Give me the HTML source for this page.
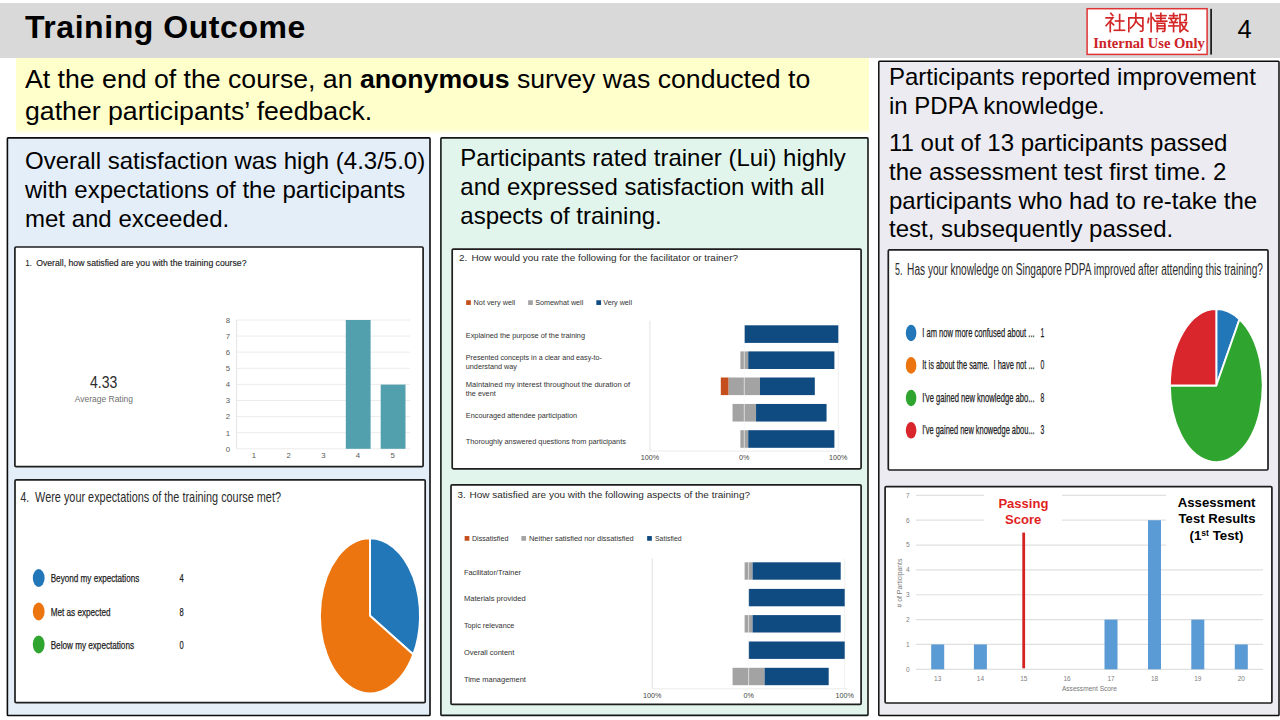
<!DOCTYPE html>
<html>
<head>
<meta charset="utf-8">
<title>Training Outcome</title>
<style>
html,body{margin:0;padding:0;}
body{width:1280px;height:720px;position:relative;overflow:hidden;background:#fff;font-family:"Liberation Sans",sans-serif;color:#000;}
.abs{position:absolute;}
.hdr{left:0;top:3px;width:1280px;height:55px;background:#d9d9d9;}
.title{left:25px;top:9px;font-size:32px;font-weight:bold;line-height:36px;white-space:nowrap;letter-spacing:0.55px;}
.pgnum{left:1237px;top:14px;font-size:24px;line-height:30px;}
.vline{left:1210.3px;top:9px;width:1.5px;height:46px;background:#111;}
.badge{left:1087px;top:8px;width:119px;height:44px;background:#fff;border:1px solid #e02020;box-shadow:inset 0 0 0 1px #fff, inset 0 0 0 2px #e8a0a0;}
.yellow{left:15.6px;top:58px;width:853.2px;height:77px;background:linear-gradient(to bottom,#ffffcb 0,#ffffcb 71px,#ffffe6 74px,#fff 77px);}
.ytext{left:25px;top:64px;font-size:26.67px;line-height:31.5px;white-space:nowrap;}
.panel{box-sizing:border-box;border:2px solid #111;}
.pblue{left:7px;top:137px;width:424px;height:580px;background:#e3eef9;}
.pgreen{left:440px;top:137px;width:429px;height:580px;background:#e2f5ec;}
.pright{left:878px;top:60px;width:401px;height:657px;background:#ebebf2;}
.ptext{font-size:24px;line-height:28.8px;white-space:nowrap;}
.cbox{box-sizing:border-box;border:2px solid #111;background:#fff;}
svg{position:absolute;left:0;top:0;overflow:visible;}
svg text{font-family:"Liberation Sans",sans-serif;}
</style>
</head>
<body>
<div class="abs hdr"></div>
<div class="abs title">Training Outcome</div>

<div class="abs yellow"></div>
<div class="abs ytext">At the end of the course, an <b>anonymous</b> survey was conducted to<br>gather participants’ feedback.</div>


<svg id="bg" width="1280" height="720" viewBox="0 0 1280 720">
<rect x="7.4" y="137.9" width="422.60" height="577.60" fill="#e4eef9" stroke="#0c0c0c" stroke-width="1.6" rx="0.8"/>
<rect x="440.9" y="137.9" width="427.10" height="577.50" fill="#e2f5ec" stroke="#151a18" stroke-width="1.6" rx="0.8"/>
<rect x="878.8" y="61.2" width="400.20" height="654.30" fill="#ebebf1" stroke="#0c0c0c" stroke-width="1.5" rx="0.8"/>
<rect x="14.9" y="247" width="408.20" height="219.70" fill="#fff" stroke="#1e1e1e" stroke-width="1.7" rx="1.2"/>
<rect x="15" y="479.9" width="410.20" height="222.70" fill="#fff" stroke="#1e1e1e" stroke-width="1.7" rx="1.2"/>
<rect x="452.2" y="249.1" width="408.90" height="219.70" fill="#fff" stroke="#1e1e1e" stroke-width="1.7" rx="1.2"/>
<rect x="451" y="484.8" width="410.10" height="219.60" fill="#fff" stroke="#1e1e1e" stroke-width="1.7" rx="1.2"/>
<rect x="888.3" y="249.9" width="379.70" height="220.10" fill="#fff" stroke="#1e1e1e" stroke-width="1.7" rx="1.2"/>
<rect x="885.1" y="486.6" width="386.80" height="216.40" fill="#fff" stroke="#1e1e1e" stroke-width="1.7" rx="1.2"/>
</svg>
<div class="abs ptext" style="left:25px;top:147px;">Overall satisfaction was high (4.3/5.0)<br>with expectations of the participants<br>met and exceeded.</div>
<div class="abs ptext" style="left:460.3px;top:144px;">Participants rated trainer (Lui) highly<br>and expressed satisfaction with all<br>aspects of training.</div>
<div class="abs ptext" style="left:889px;top:63px;">Participants reported improvement<br>in PDPA knowledge.</div>
<div class="abs ptext" style="left:889px;top:129px;">11 out of 13 participants passed<br>the assessment test first time. 2<br>participants who had to re-take the<br>test, subsequently passed.</div>


<svg id="ov" width="1280" height="720" viewBox="0 0 1280 720">
<g id="badge">
<rect x="1087.1" y="8.7" width="120" height="45.7" fill="#fff" stroke="#de3434" stroke-width="1.5"/>
<g transform="translate(1105.00,13.0) scale(0.1950,0.1900)" fill="none" stroke="#d42626" stroke-width="8.6" stroke-linecap="square"><path d="M30,2 L40,14"/><path d="M6,26 L40,26 L6,66"/><path d="M27,46 L27,98"/><path d="M30,48 L44,62"/><path d="M54,42 L96,42"/><path d="M75,8 L75,90"/><path d="M48,91 L100,91"/></g><g transform="translate(1126.10,13.0) scale(0.1950,0.1900)" fill="none" stroke="#d42626" stroke-width="8.6" stroke-linecap="square"><path d="M14,26 L14,98"/><path d="M14,26 L86,26 L86,90 Q86,97 74,96"/><path d="M50,2 L50,38 Q46,62 22,80"/><path d="M50,40 Q60,58 78,70"/></g><g transform="translate(1147.20,13.0) scale(0.1950,0.1900)" fill="none" stroke="#d42626" stroke-width="8.6" stroke-linecap="square"><path d="M8,28 L4,50"/><path d="M20,2 L20,98"/><path d="M27,24 L36,38"/><path d="M46,14 L96,14"/><path d="M50,28 L92,28"/><path d="M40,43 L100,43"/><path d="M70,2 L70,43"/><path d="M52,54 L52,98"/><path d="M52,54 L90,54 L90,92 Q90,98 80,97"/><path d="M52,68 L90,68"/><path d="M52,82 L90,82"/></g><g transform="translate(1168.30,13.0) scale(0.1950,0.1900)" fill="none" stroke="#d42626" stroke-width="8.6" stroke-linecap="square"><path d="M8,14 L46,14"/><path d="M27,2 L27,28"/><path d="M3,28 L50,28"/><path d="M14,34 L20,46"/><path d="M40,34 L34,46"/><path d="M8,50 L46,50"/><path d="M3,68 L50,68"/><path d="M27,50 L27,98"/><path d="M60,8 L60,98"/><path d="M60,8 L92,8 L92,34 Q92,40 84,39"/><path d="M62,50 L94,50 Q88,78 62,98"/><path d="M68,58 Q78,84 100,96"/></g>
<text x="1093.20" y="48.30" font-size="14.5" fill="#cc2428" font-weight="bold" style='font-family:"Liberation Serif", serif' textLength="111.50" lengthAdjust="spacingAndGlyphs" >Internal Use Only</text>
<text x="1244.60" y="38.30" font-size="25.5" fill="#000" text-anchor="middle" >4</text>
<rect x="1210.30" y="8.80" width="1.60" height="45.80" fill="#0a0a0a" />
</g>
<g id="chart1">
<text x="25.60" y="265.60" font-size="9" fill="#222" textLength="6.10" lengthAdjust="spacingAndGlyphs" stroke="#222" stroke-width="0.15">1.</text>
<text x="36.20" y="265.60" font-size="9" fill="#222" textLength="210.30" lengthAdjust="spacingAndGlyphs" stroke="#222" stroke-width="0.15">Overall, how satisfied are you with the training course?</text>
<text x="90.00" y="387.50" font-size="16" fill="#2b2b2b" textLength="27.30" lengthAdjust="spacingAndGlyphs" >4.33</text>
<text x="74.80" y="401.90" font-size="9.3" fill="#707070" textLength="58.20" lengthAdjust="spacingAndGlyphs" >Average Rating</text>
<line x1="236.60" y1="448.80" x2="410.00" y2="448.80" stroke="#ececec" stroke-width="1" />
<text x="230.20" y="451.60" font-size="7.8" fill="#5a5a5a" text-anchor="end" >0</text>
<line x1="236.60" y1="432.70" x2="410.00" y2="432.70" stroke="#ececec" stroke-width="1" />
<text x="230.20" y="435.50" font-size="7.8" fill="#5a5a5a" text-anchor="end" >1</text>
<line x1="236.60" y1="416.60" x2="410.00" y2="416.60" stroke="#ececec" stroke-width="1" />
<text x="230.20" y="419.40" font-size="7.8" fill="#5a5a5a" text-anchor="end" >2</text>
<line x1="236.60" y1="400.50" x2="410.00" y2="400.50" stroke="#ececec" stroke-width="1" />
<text x="230.20" y="403.30" font-size="7.8" fill="#5a5a5a" text-anchor="end" >3</text>
<line x1="236.60" y1="384.40" x2="410.00" y2="384.40" stroke="#ececec" stroke-width="1" />
<text x="230.20" y="387.20" font-size="7.8" fill="#5a5a5a" text-anchor="end" >4</text>
<line x1="236.60" y1="368.30" x2="410.00" y2="368.30" stroke="#ececec" stroke-width="1" />
<text x="230.20" y="371.10" font-size="7.8" fill="#5a5a5a" text-anchor="end" >5</text>
<line x1="236.60" y1="352.20" x2="410.00" y2="352.20" stroke="#ececec" stroke-width="1" />
<text x="230.20" y="355.00" font-size="7.8" fill="#5a5a5a" text-anchor="end" >6</text>
<line x1="236.60" y1="336.10" x2="410.00" y2="336.10" stroke="#ececec" stroke-width="1" />
<text x="230.20" y="338.90" font-size="7.8" fill="#5a5a5a" text-anchor="end" >7</text>
<line x1="236.60" y1="320.00" x2="410.00" y2="320.00" stroke="#ececec" stroke-width="1" />
<text x="230.20" y="322.80" font-size="7.8" fill="#5a5a5a" text-anchor="end" >8</text>
<line x1="236.60" y1="320.00" x2="236.60" y2="448.80" stroke="#e4e4e4" stroke-width="1" />
<text x="253.94" y="457.60" font-size="7.8" fill="#5a5a5a" text-anchor="middle" >1</text>
<text x="288.62" y="457.60" font-size="7.8" fill="#5a5a5a" text-anchor="middle" >2</text>
<text x="323.30" y="457.60" font-size="7.8" fill="#5a5a5a" text-anchor="middle" >3</text>
<text x="357.98" y="457.60" font-size="7.8" fill="#5a5a5a" text-anchor="middle" >4</text>
<text x="392.66" y="457.60" font-size="7.8" fill="#5a5a5a" text-anchor="middle" >5</text>
<rect x="345.80" y="320.00" width="24.80" height="128.80" fill="#529fae" />
<rect x="380.70" y="384.60" width="24.80" height="64.20" fill="#529fae" />
</g>
<g id="chart4">
<text x="20.60" y="501.90" font-size="14.6" fill="#2b2b2b" textLength="8.60" lengthAdjust="spacingAndGlyphs" >4.</text>
<text x="35.10" y="501.90" font-size="14.6" fill="#2b2b2b" textLength="245.90" lengthAdjust="spacingAndGlyphs" >Were your expectations of the training course met?</text>
<ellipse cx="38.7" cy="578" rx="5.9" ry="9" fill="#2177b8"/>
<text x="50.70" y="582.40" font-size="11.4" fill="#1c1c1c" textLength="88.60" lengthAdjust="spacingAndGlyphs" stroke="#1c1c1c" stroke-width="0.25">Beyond my expectations</text>
<text x="179.40" y="582.40" font-size="11.4" fill="#1c1c1c" textLength="4.20" lengthAdjust="spacingAndGlyphs" stroke="#1c1c1c" stroke-width="0.25">4</text>
<ellipse cx="38.7" cy="611.5" rx="5.9" ry="9" fill="#ec7510"/>
<text x="50.70" y="615.90" font-size="11.4" fill="#1c1c1c" textLength="59.80" lengthAdjust="spacingAndGlyphs" stroke="#1c1c1c" stroke-width="0.25">Met as expected</text>
<text x="179.40" y="615.90" font-size="11.4" fill="#1c1c1c" textLength="4.20" lengthAdjust="spacingAndGlyphs" stroke="#1c1c1c" stroke-width="0.25">8</text>
<ellipse cx="38.7" cy="644.4" rx="5.9" ry="9" fill="#2fa52f"/>
<text x="50.70" y="648.80" font-size="11.4" fill="#1c1c1c" textLength="83.30" lengthAdjust="spacingAndGlyphs" stroke="#1c1c1c" stroke-width="0.25">Below my expectations</text>
<text x="179.40" y="648.80" font-size="11.4" fill="#1c1c1c" textLength="4.20" lengthAdjust="spacingAndGlyphs" stroke="#1c1c1c" stroke-width="0.25">0</text>
<path d="M370.00,615.70 L370.00,538.20 A50,77.5 0 0 1 413.30,654.45 Z" fill="#2177b8" stroke="#fff" stroke-width="1.9" stroke-linejoin="round"/>
<path d="M370.00,615.70 L413.30,654.45 A50,77.5 0 1 1 370.00,538.20 Z" fill="#ec7510" stroke="#fff" stroke-width="1.9" stroke-linejoin="round"/>
</g>
<g id="chart2">
<text x="459.00" y="261.20" font-size="9.9" fill="#2a2a2a" >2.</text>
<text x="471.40" y="261.20" font-size="9.9" fill="#2a2a2a" textLength="266.60" lengthAdjust="spacingAndGlyphs" >How would you rate the following for the facilitator or trainer?</text>
<rect x="466.15" y="300.25" width="4.70" height="4.70" fill="#c54f1c" />
<text x="473.60" y="305.30" font-size="7.5" fill="#333" textLength="41.60" lengthAdjust="spacingAndGlyphs" >Not very well</text>
<rect x="528.15" y="300.25" width="4.70" height="4.70" fill="#a3a3a3" />
<text x="535.20" y="305.30" font-size="7.5" fill="#333" textLength="48.10" lengthAdjust="spacingAndGlyphs" >Somewhat well</text>
<rect x="596.35" y="300.25" width="4.70" height="4.70" fill="#0f4a80" />
<text x="603.30" y="305.30" font-size="7.5" fill="#333" textLength="28.70" lengthAdjust="spacingAndGlyphs" >Very well</text>
<line x1="649.90" y1="320.80" x2="649.90" y2="451.10" stroke="#e2e2e2" stroke-width="1" />
<line x1="838.30" y1="320.80" x2="838.30" y2="451.10" stroke="#f0f0f0" stroke-width="1" />
<line x1="649.90" y1="451.10" x2="841.30" y2="451.10" stroke="#ececec" stroke-width="1" />
<text x="465.80" y="338.00" font-size="7.5" fill="#333" textLength="119.20" lengthAdjust="spacingAndGlyphs" >Explained the purpose of the training</text>
<rect x="744.30" y="325.30" width="94.00" height="17.60" fill="#0f4a80" />
<text x="465.80" y="360.30" font-size="7.5" fill="#333" textLength="136.20" lengthAdjust="spacingAndGlyphs" >Presented concepts in a clear and easy-to-</text>
<text x="465.80" y="368.90" font-size="7.5" fill="#333" textLength="51.20" lengthAdjust="spacingAndGlyphs" >understand way</text>
<rect x="740.38" y="351.40" width="7.83" height="17.60" fill="#a3a3a3" />
<rect x="748.22" y="351.40" width="86.17" height="17.60" fill="#0f4a80" />
<text x="465.80" y="386.90" font-size="7.5" fill="#333" textLength="164.20" lengthAdjust="spacingAndGlyphs" >Maintained my interest throughout the duration of</text>
<text x="465.80" y="395.90" font-size="7.5" fill="#333" textLength="29.90" lengthAdjust="spacingAndGlyphs" >the event</text>
<rect x="720.80" y="377.50" width="7.83" height="17.60" fill="#c54f1c" />
<rect x="728.63" y="377.50" width="31.33" height="17.60" fill="#a3a3a3" />
<rect x="759.97" y="377.50" width="54.83" height="17.60" fill="#0f4a80" />
<text x="465.80" y="417.80" font-size="7.5" fill="#333" textLength="111.30" lengthAdjust="spacingAndGlyphs" >Encouraged attendee participation</text>
<rect x="732.55" y="403.95" width="23.50" height="17.60" fill="#a3a3a3" />
<rect x="756.05" y="403.95" width="70.50" height="17.60" fill="#0f4a80" />
<text x="465.80" y="444.40" font-size="7.5" fill="#333" textLength="160.10" lengthAdjust="spacingAndGlyphs" >Thoroughly answered questions from participants</text>
<rect x="740.38" y="430.20" width="7.83" height="17.60" fill="#a3a3a3" />
<rect x="748.22" y="430.20" width="86.17" height="17.60" fill="#0f4a80" />
<line x1="744.30" y1="320.80" x2="744.30" y2="451.10" stroke="#f4f4f4" stroke-width="0.8" stroke-opacity="0.85"/>
<text x="649.90" y="459.70" font-size="7.2" fill="#444" text-anchor="middle" >100%</text>
<text x="744.30" y="459.70" font-size="7.2" fill="#444" text-anchor="middle" >0%</text>
<text x="838.30" y="459.70" font-size="7.2" fill="#444" text-anchor="middle" >100%</text>
</g>
<g id="chart3">
<text x="457.40" y="497.80" font-size="9.9" fill="#2a2a2a" >3.</text>
<text x="469.50" y="497.80" font-size="9.9" fill="#2a2a2a" textLength="280.50" lengthAdjust="spacingAndGlyphs" >How satisfied are you with the following aspects of the training?</text>
<rect x="464.65" y="536.05" width="4.70" height="4.70" fill="#c54f1c" />
<text x="471.90" y="541.10" font-size="7.5" fill="#333" textLength="36.50" lengthAdjust="spacingAndGlyphs" >Dissatisfied</text>
<rect x="521.35" y="536.05" width="4.70" height="4.70" fill="#a3a3a3" />
<text x="529.00" y="541.10" font-size="7.5" fill="#333" textLength="104.70" lengthAdjust="spacingAndGlyphs" >Neither satisfied nor dissatisfied</text>
<rect x="647.15" y="536.05" width="4.70" height="4.70" fill="#0f4a80" />
<text x="655.00" y="541.10" font-size="7.5" fill="#333" textLength="26.60" lengthAdjust="spacingAndGlyphs" >Satisfied</text>
<line x1="652.30" y1="558.40" x2="652.30" y2="688.80" stroke="#e2e2e2" stroke-width="1" />
<line x1="844.70" y1="558.40" x2="844.70" y2="688.80" stroke="#f0f0f0" stroke-width="1" />
<line x1="652.30" y1="688.80" x2="847.70" y2="688.80" stroke="#ececec" stroke-width="1" />
<text x="463.90" y="574.60" font-size="7.5" fill="#333" textLength="57.10" lengthAdjust="spacingAndGlyphs" >Facilitator/Trainer</text>
<rect x="744.60" y="562.30" width="8.01" height="17.40" fill="#a3a3a3" />
<rect x="752.60" y="562.30" width="88.09" height="17.40" fill="#0f4a80" />
<text x="463.90" y="601.40" font-size="7.5" fill="#333" textLength="61.70" lengthAdjust="spacingAndGlyphs" >Materials provided</text>
<rect x="748.60" y="588.90" width="96.10" height="17.40" fill="#0f4a80" />
<text x="463.90" y="628.10" font-size="7.5" fill="#333" textLength="50.50" lengthAdjust="spacingAndGlyphs" >Topic relevance</text>
<rect x="744.60" y="615.10" width="8.01" height="17.40" fill="#a3a3a3" />
<rect x="752.60" y="615.10" width="88.09" height="17.40" fill="#0f4a80" />
<text x="463.90" y="655.10" font-size="7.5" fill="#333" textLength="50.50" lengthAdjust="spacingAndGlyphs" >Overall content</text>
<rect x="748.60" y="641.50" width="96.10" height="17.40" fill="#0f4a80" />
<text x="463.90" y="682.10" font-size="7.5" fill="#333" textLength="62.00" lengthAdjust="spacingAndGlyphs" >Time management</text>
<rect x="732.58" y="667.80" width="32.03" height="17.40" fill="#a3a3a3" />
<rect x="764.62" y="667.80" width="64.07" height="17.40" fill="#0f4a80" />
<line x1="748.60" y1="558.40" x2="748.60" y2="688.80" stroke="#f4f4f4" stroke-width="0.8" stroke-opacity="0.85"/>
<text x="652.30" y="697.60" font-size="7.2" fill="#444" text-anchor="middle" >100%</text>
<text x="748.60" y="697.60" font-size="7.2" fill="#444" text-anchor="middle" >0%</text>
<text x="844.70" y="697.60" font-size="7.2" fill="#444" text-anchor="middle" >100%</text>
</g>
<g id="chart5">
<text x="895.00" y="274.70" font-size="15.6" fill="#2b2b2b" textLength="7.40" lengthAdjust="spacingAndGlyphs" >5.</text>
<text x="907.10" y="274.70" font-size="15.6" fill="#2b2b2b" textLength="355.90" lengthAdjust="spacingAndGlyphs" >Has your knowledge on Singapore PDPA improved after attending this training?</text>
<ellipse cx="911.1" cy="333" rx="5.3" ry="8.3" fill="#2177b8"/>
<text x="922.30" y="337.00" font-size="12.6" fill="#1c1c1c" textLength="112.30" lengthAdjust="spacingAndGlyphs" stroke="#1c1c1c" stroke-width="0.25">I am now more confused about ...</text>
<text x="1040.60" y="337.00" font-size="12.6" fill="#1c1c1c" textLength="3.80" lengthAdjust="spacingAndGlyphs" stroke="#1c1c1c" stroke-width="0.25">1</text>
<ellipse cx="911.1" cy="365.4" rx="5.3" ry="8.3" fill="#ec7510"/>
<text x="922.30" y="369.40" font-size="12.6" fill="#1c1c1c" textLength="112.30" lengthAdjust="spacingAndGlyphs" stroke="#1c1c1c" stroke-width="0.25">It is about the same. &#160;I have not ...</text>
<text x="1040.60" y="369.40" font-size="12.6" fill="#1c1c1c" textLength="3.80" lengthAdjust="spacingAndGlyphs" stroke="#1c1c1c" stroke-width="0.25">0</text>
<ellipse cx="911.1" cy="398" rx="5.3" ry="8.3" fill="#2fa52f"/>
<text x="922.30" y="402.00" font-size="12.6" fill="#1c1c1c" textLength="112.30" lengthAdjust="spacingAndGlyphs" stroke="#1c1c1c" stroke-width="0.25">I've gained new knowledge abo...</text>
<text x="1040.60" y="402.00" font-size="12.6" fill="#1c1c1c" textLength="3.80" lengthAdjust="spacingAndGlyphs" stroke="#1c1c1c" stroke-width="0.25">8</text>
<ellipse cx="911.1" cy="430.3" rx="5.3" ry="8.3" fill="#d9262c"/>
<text x="922.30" y="434.30" font-size="12.6" fill="#1c1c1c" textLength="112.30" lengthAdjust="spacingAndGlyphs" stroke="#1c1c1c" stroke-width="0.25">I've gained new knowedge abou...</text>
<text x="1040.60" y="434.30" font-size="12.6" fill="#1c1c1c" textLength="3.80" lengthAdjust="spacingAndGlyphs" stroke="#1c1c1c" stroke-width="0.25">3</text>
<path d="M1216.30,385.50 L1216.30,309.00 A46.4,76.5 0 0 1 1239.50,319.25 Z" fill="#2177b8" stroke="#fff" stroke-width="1.9" stroke-linejoin="round"/>
<path d="M1216.30,385.50 L1239.50,319.25 A46.4,76.5 0 1 1 1169.90,385.50 Z" fill="#2fa52f" stroke="#fff" stroke-width="1.9" stroke-linejoin="round"/>
<path d="M1216.30,385.50 L1169.90,385.50 A46.4,76.5 0 0 1 1216.30,309.00 Z" fill="#d9262c" stroke="#fff" stroke-width="1.9" stroke-linejoin="round"/>
</g>
<g id="chart6">
<line x1="916.00" y1="669.30" x2="1263.00" y2="669.30" stroke="#e0e0e0" stroke-width="1.2" />
<text x="909.60" y="671.70" font-size="6.5" fill="#808080" text-anchor="end" >0</text>
<line x1="916.00" y1="644.45" x2="1263.00" y2="644.45" stroke="#e0e0e0" stroke-width="1.2" />
<text x="909.60" y="646.85" font-size="6.5" fill="#808080" text-anchor="end" >1</text>
<line x1="916.00" y1="619.60" x2="1263.00" y2="619.60" stroke="#e0e0e0" stroke-width="1.2" />
<text x="909.60" y="622.00" font-size="6.5" fill="#808080" text-anchor="end" >2</text>
<line x1="916.00" y1="594.75" x2="1263.00" y2="594.75" stroke="#e0e0e0" stroke-width="1.2" />
<text x="909.60" y="597.15" font-size="6.5" fill="#808080" text-anchor="end" >3</text>
<line x1="916.00" y1="569.90" x2="1263.00" y2="569.90" stroke="#e0e0e0" stroke-width="1.2" />
<text x="909.60" y="572.30" font-size="6.5" fill="#808080" text-anchor="end" >4</text>
<line x1="916.00" y1="545.05" x2="1263.00" y2="545.05" stroke="#e0e0e0" stroke-width="1.2" />
<text x="909.60" y="547.45" font-size="6.5" fill="#808080" text-anchor="end" >5</text>
<line x1="916.00" y1="520.20" x2="1263.00" y2="520.20" stroke="#e0e0e0" stroke-width="1.2" />
<text x="909.60" y="522.60" font-size="6.5" fill="#808080" text-anchor="end" >6</text>
<line x1="916.00" y1="495.35" x2="1263.00" y2="495.35" stroke="#e0e0e0" stroke-width="1.2" />
<text x="909.60" y="497.75" font-size="6.5" fill="#808080" text-anchor="end" >7</text>
<rect x="931.20" y="644.45" width="13.00" height="24.85" fill="#5b9bd5" />
<text x="937.70" y="680.70" font-size="6.5" fill="#808080" text-anchor="middle" >13</text>
<rect x="973.90" y="644.45" width="13.00" height="24.85" fill="#5b9bd5" />
<text x="980.40" y="680.70" font-size="6.5" fill="#808080" text-anchor="middle" >14</text>
<text x="1023.80" y="680.70" font-size="6.5" fill="#808080" text-anchor="middle" >15</text>
<text x="1067.00" y="680.70" font-size="6.5" fill="#808080" text-anchor="middle" >16</text>
<rect x="1104.50" y="619.60" width="13.00" height="49.70" fill="#5b9bd5" />
<text x="1111.00" y="680.70" font-size="6.5" fill="#808080" text-anchor="middle" >17</text>
<rect x="1148.00" y="520.20" width="13.00" height="149.10" fill="#5b9bd5" />
<text x="1154.50" y="680.70" font-size="6.5" fill="#808080" text-anchor="middle" >18</text>
<rect x="1191.30" y="619.60" width="13.00" height="49.70" fill="#5b9bd5" />
<text x="1197.80" y="680.70" font-size="6.5" fill="#808080" text-anchor="middle" >19</text>
<rect x="1234.80" y="644.45" width="13.00" height="24.85" fill="#5b9bd5" />
<text x="1241.30" y="680.70" font-size="6.5" fill="#808080" text-anchor="middle" >20</text>
<text x="1089.40" y="691.40" font-size="6.6" fill="#777" text-anchor="middle" >Assessment Score</text>
<text transform="translate(901.8,583) rotate(-90)" font-size="6.8" fill="#777" text-anchor="middle"># of Participants</text>
<rect x="984.00" y="490.00" width="78.00" height="38.00" fill="#fff" />
<rect x="1166.00" y="489.00" width="98.00" height="72.00" fill="#fff" />
<line x1="1023.70" y1="532.60" x2="1023.70" y2="668.30" stroke="#d32222" stroke-width="2.8" />
<text x="998.40" y="507.90" font-size="13.3" fill="#df1f1f" font-weight="bold" textLength="50.00" lengthAdjust="spacingAndGlyphs" >Passing</text>
<text x="1005.00" y="523.50" font-size="13.3" fill="#df1f1f" font-weight="bold" textLength="36.30" lengthAdjust="spacingAndGlyphs" >Score</text>
<text x="1177.70" y="507.20" font-size="13.3" fill="#000" font-weight="bold" textLength="77.80" lengthAdjust="spacingAndGlyphs" >Assessment</text>
<text x="1178.60" y="523.40" font-size="13.3" fill="#000" font-weight="bold" textLength="76.90" lengthAdjust="spacingAndGlyphs" >Test Results</text>
<text x="1216.5" y="539.6" font-size="13.3" font-weight="bold" text-anchor="middle" fill="#000">(1<tspan font-size="8.6" dy="-3.8">st</tspan><tspan dy="3.8"> Test)</tspan></text>
</g>
</svg>
</body>
</html>
